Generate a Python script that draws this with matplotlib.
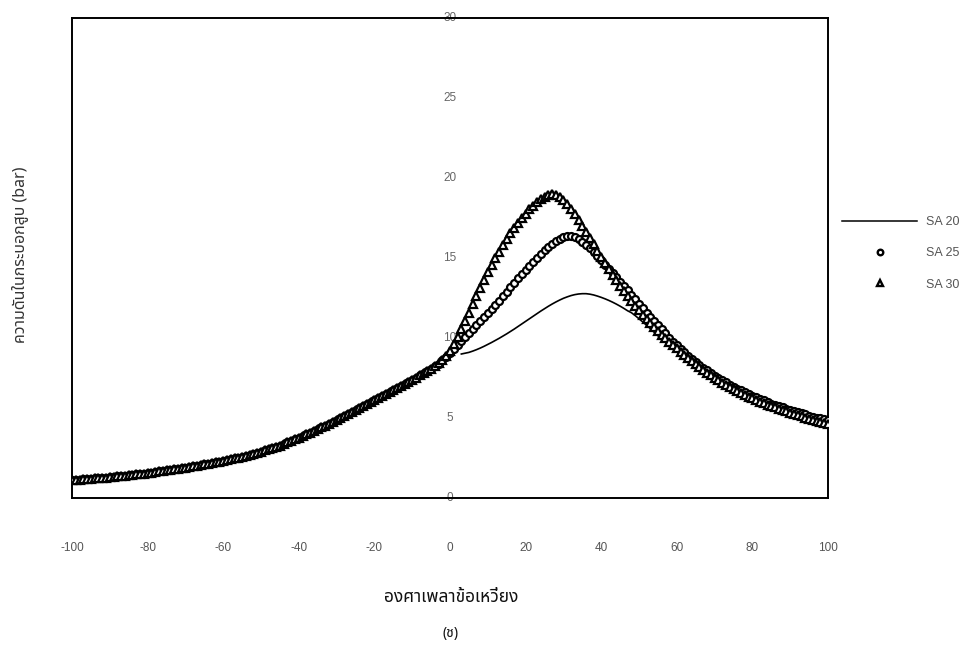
import numpy as np
import matplotlib
matplotlib.use("Agg")
import matplotlib.pyplot as plt
from matplotlib import font_manager as fm
from matplotlib.ft2font import FT2Font
from matplotlib.lines import Line2D

# ---------------- data ----------------
angle = np.arange(-100, 101)  # crank angle, 1 degree steps

common_left = [
    1.10, 1.12, 1.14, 1.16, 1.18, 1.20, 1.22, 1.24, 1.26, 1.28,   # -100..-91
    1.30, 1.32, 1.35, 1.37, 1.40, 1.42, 1.45, 1.48, 1.50, 1.53,   # -90..-81
    1.56, 1.59, 1.62, 1.66, 1.69, 1.72, 1.76, 1.79, 1.83, 1.86,   # -80..-71
    1.90, 1.94, 1.98, 2.02, 2.06, 2.10, 2.14, 2.19, 2.23, 2.28,   # -70..-61
    2.32, 2.37, 2.42, 2.47, 2.53, 2.58, 2.64, 2.70, 2.76, 2.83,   # -60..-51
    2.90, 2.97, 3.05, 3.12, 3.20, 3.28, 3.38, 3.48, 3.58, 3.68,   # -50..-41
    3.78, 3.88, 3.98, 4.09, 4.19, 4.30, 4.41, 4.53, 4.64, 4.76,   # -40..-31
    4.88, 5.00, 5.12, 5.25, 5.37, 5.50, 5.62, 5.75, 5.87, 6.00,   # -30..-21
    6.12, 6.25, 6.37, 6.50, 6.62, 6.75, 6.88, 7.01, 7.14, 7.27,   # -20..-11
    7.40, 7.53, 7.66, 7.79, 7.92, 8.05,                           # -10..-5
]

sa20 = common_left + [
    8.19, 8.33, 8.47, 8.61, 8.75,                                 # -4..0
    np.nan, np.nan, 9.00, 9.05, 9.10, 9.18, 9.27, 9.37, 9.48, 9.60,  # 1..10
    9.72, 9.85, 9.98, 10.12, 10.26, 10.41, 10.56, 10.72, 10.88, 11.04,  # 11..20
    11.20, 11.36, 11.52, 11.68, 11.83, 11.98, 12.12, 12.25, 12.37, 12.48,  # 21..30
    12.57, 12.65, 12.71, 12.75, 12.77, 12.77, 12.74, 12.69, 12.62, 12.54,  # 31..40
    12.45, 12.35, 12.24, 12.12, 11.99, 11.85, 11.70, 11.58, 11.40, 11.20,  # 41..50
    11.00, 10.80, 10.58, 10.36, 10.14, 9.93, 9.72, 9.52, 9.32, 9.13,      # 51..60
    8.92, 8.74, 8.57, 8.40, 8.24, 8.08, 7.93, 7.78, 7.64, 7.50,           # 61..70
    7.36, 7.23, 7.10, 6.97, 6.85, 6.73, 6.61, 6.50, 6.39, 6.28,           # 71..80
    6.18, 6.08, 5.98, 5.89, 5.80, 5.71, 5.62, 5.54, 5.46, 5.38,           # 81..90
    5.30, 5.23, 5.16, 5.09, 5.02, 4.95, 4.89, 4.83, 4.77, 4.71,           # 91..100
]

sa25 = common_left + [
    8.22, 8.40, 8.60, 8.80, 9.05,                                 # -4..0
    9.30, 9.55, 9.80, 10.05, 10.30, 10.55, 10.80, 11.05, 11.30, 11.55,    # 1..10
    11.80, 12.05, 12.32, 12.60, 12.88, 13.16, 13.44, 13.72, 14.00, 14.27,  # 11..20
    14.53, 14.78, 15.02, 15.25, 15.47, 15.68, 15.88, 16.05, 16.20, 16.32,  # 21..30
    16.40, 16.40, 16.33, 16.20, 16.03, 15.83, 15.60, 15.36, 15.11, 14.85,  # 31..40
    14.59, 14.33, 14.07, 13.80, 13.53, 13.25, 12.97, 12.69, 12.41, 12.13,  # 41..50
    11.85, 11.58, 11.31, 11.05, 10.79, 10.54, 10.29, 10.02, 9.78, 9.55,   # 51..60
    9.33, 9.11, 8.90, 8.70, 8.50, 8.32, 8.14, 7.97, 7.81, 7.65,           # 61..70
    7.50, 7.36, 7.22, 7.08, 6.95, 6.83, 6.72, 6.61, 6.50, 6.40,           # 71..80
    6.30, 6.20, 6.10, 6.00, 5.90, 5.82, 5.74, 5.66, 5.58, 5.50,           # 81..90
    5.43, 5.36, 5.29, 5.22, 5.15, 5.09, 5.03, 4.97, 4.91, 4.85,           # 91..100
]

sa30 = common_left + [
    8.22, 8.42, 8.65, 8.90, 9.20,                                 # -4..0
    9.62, 10.08, 10.56, 11.07, 11.58, 12.10, 12.62, 13.13, 13.62, 14.10,  # 1..10
    14.55, 14.98, 15.40, 15.80, 16.18, 16.54, 16.88, 17.20, 17.50, 17.78,  # 11..20
    18.04, 18.28, 18.49, 18.67, 18.82, 18.93, 19.00, 18.95, 18.82, 18.62,  # 21..30
    18.36, 18.06, 17.73, 17.38, 17.01, 16.63, 16.24, 15.85, 15.46, 15.07,  # 31..40
    14.69, 14.32, 13.96, 13.61, 13.27, 12.94, 12.62, 12.31, 12.01, 11.72,  # 41..50
    11.44, 11.17, 10.91, 10.66, 10.42, 10.19, 9.97, 9.76, 9.55, 9.35,     # 51..60
    9.15, 8.95, 8.75, 8.55, 8.35, 8.17, 8.00, 7.83, 7.66, 7.50,           # 61..70
    7.35, 7.21, 7.07, 6.93, 6.80, 6.68, 6.56, 6.44, 6.33, 6.22,           # 71..80
    6.12, 6.02, 5.92, 5.83, 5.74, 5.66, 5.58, 5.50, 5.41, 5.33,           # 81..90
    5.25, 5.17, 5.10, 5.02, 4.95, 4.88, 4.81, 4.75, 4.68, 4.62,           # 91..100
]

series_labels = ["SA 20", "SA 25", "SA 30"]
xtick_values = [-100, -80, -60, -40, -20, 0, 20, 40, 60, 80, 100]
ytick_values = [0, 5, 10, 15, 20, 25, 30]
xlabel_text = "องศาเพลาข้อเหวี่ยง"
ylabel_text = "ความดันในกระบอกสูบ (bar)"
caption_text = "(ช)"

# ---------------- fonts ----------------
def find_thai_family():
    preferred = ["Noto Sans Thai", "Noto Sans Thai Looped", "Loma", "Garuda",
                 "Norasi", "Tlwg Typo", "Kinnari", "Sawasdee", "Umpush"]
    found = {}
    for f in fm.fontManager.ttflist:
        try:
            cm = FT2Font(f.fname).get_charmap()
        except Exception:
            continue
        if 0x0E01 in cm and 0x0E2A in cm:
            found.setdefault(f.name, f.fname)
    for p in preferred:
        if p in found:
            return p
    if found:
        return sorted(found)[0]
    return None

thai = find_thai_family()
names = {f.name for f in fm.fontManager.ttflist}
num_font = "Liberation Sans Narrow" if "Liberation Sans Narrow" in names else "Liberation Sans"
thai_fam = [thai, "DejaVu Sans"] if thai else ["DejaVu Sans"]

# ---------------- figure ----------------
W, H = 967, 646
fig = plt.figure(figsize=(W / 100, H / 100), dpi=100)
ax = fig.add_axes([72 / W, 1 - 498 / H, (828 - 72) / W, (498 - 18) / H])

ax.plot(angle, sa20, color="black", lw=1.2, zorder=3)
ax.plot(angle, sa25, ls="none", marker="o", ms=5.0, mfc="white",
        mec="black", mew=1.6, zorder=4)
ax.plot(angle, sa30, ls="none", marker="^", ms=5.6, mfc="white",
        mec="black", mew=1.6, zorder=5)

ax.set_xlim(-100, 100)
ax.set_ylim(0, 30)
for s in ax.spines.values():
    s.set_linewidth(1.4)
    s.set_color("black")

ax.set_xticks(xtick_values)
ax.set_xticklabels([str(v) for v in xtick_values])
ax.tick_params(axis="x", length=0, pad=32, labelsize=8.5, labelcolor="#555555")
for t in ax.get_xticklabels():
    t.set_fontfamily(num_font)
ax.set_yticks([])
for v in ytick_values:
    ax.text(0, v, str(v), ha="center", va="center", fontsize=8.5,
            color="#666666", family=num_font, zorder=2)

# legend
handles = [
    Line2D([], [], color="black", lw=1.1),
    Line2D([], [], ls="none", marker="o", ms=4.0, mfc="white", mec="black", mew=1.7),
    Line2D([], [], ls="none", marker="^", ms=4.4, mfc="white", mec="black", mew=1.7),
]
leg = fig.legend(handles, series_labels, loc="upper left",
                 bbox_to_anchor=(842 / W, 1 - 216 / H), frameon=False,
                 handlelength=6.0, handletextpad=0.7, labelspacing=1.55,
                 borderpad=0, borderaxespad=0, numpoints=1,
                 prop={"family": num_font, "size": 9})
for t in leg.get_texts():
    t.set_color("#555555")

fig.text(20 / W, 1 - 255 / H, ylabel_text, rotation=90, ha="center", va="center",
         fontsize=11.5, color="#333333", family=thai_fam)
fig.text(451 / W, 1 - 597 / H, xlabel_text, ha="center", va="center",
         fontsize=12.5, color="#111111", family=thai_fam, fontweight="bold")
fig.text(451 / W, 1 - 633 / H, caption_text, ha="center", va="center",
         fontsize=10, color="#111111", family=thai_fam)

fig.savefig("out.png", dpi=100)
